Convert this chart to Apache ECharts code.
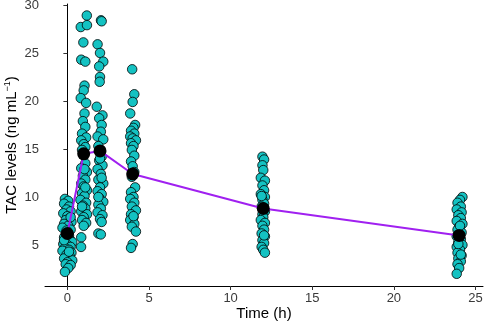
<!DOCTYPE html>
<html lang="en">

<head>
    <meta charset="UTF-8">
    <title>TAC levels over time</title>
    <style>
        * {
            margin: 0;
            padding: 0;
        }

        html,
        body {
            width: 100%;
            height: 100%;
            background: #fff;
        }
    </style>
    <script src="https://cdn.jsdelivr.net/npm/echarts@6/dist/echarts.min.js"></script>
</head>

<body>
    <div id="main" style="width:484px;height:321px;"></div>
</body>
<script>
    // individual observations [time (h), TAC (ng/mL)], jittered around each sampling time
    var obsT0 = [[-0.15, 9.8], [0.05, 9.6], [-0.2, 9.3], [0.1, 9.0], [-0.05, 8.7], [0.2, 8.5], [-0.25, 8.3], [0.0, 8.0],
        [0.15, 7.8], [-0.1, 7.6], [0.25, 7.4], [-0.2, 7.2], [0.05, 7.0], [-0.3, 6.8], [0.2, 6.6], [-0.05, 6.5],
        [0.1, 6.0], [-0.2, 5.8], [0.15, 5.6], [-0.1, 5.4], [0.3, 5.3], [-0.25, 5.1], [0.0, 5.0], [0.2, 4.8],
        [-0.15, 4.7], [0.1, 4.5], [-0.3, 4.4], [0.25, 4.2], [-0.05, 4.0], [0.15, 3.8], [-0.2, 3.6], [0.3, 3.4],
        [0.0, 3.2], [-0.1, 3.0], [0.2, 2.9], [0.05, 2.6], [-0.15, 2.2], [0.2, 7.9], [-0.1, 6.2], [0.1, 4.3], [-0.2, 5.5]];
    var obsT1 = [[1.19, 28.9], [0.82, 27.7], [1.2, 27.9], [0.98, 26.1], [0.85, 24.3], [1.1, 24.1], [1.05, 21.6], [1.0, 21.1],
        [0.82, 20.3], [1.15, 19.8], [1.05, 18.7], [0.95, 17.9], [1.1, 17.3], [0.9, 16.6], [1.15, 16.2], [0.85, 15.9],
        [1.0, 15.5], [1.1, 15.2], [0.9, 14.9], [1.1, 13.5], [0.85, 13.0], [1.2, 12.6], [0.95, 12.2], [1.1, 11.8],
        [0.85, 11.4], [1.0, 11.1], [1.2, 10.7], [0.9, 10.4], [1.05, 10.1], [0.8, 9.7], [1.15, 9.4], [0.95, 9.1],
        [1.1, 8.8], [0.85, 8.5], [1.2, 8.2], [1.0, 7.9], [0.9, 7.6], [1.15, 7.3], [1.0, 7.0], [0.85, 5.8],
        [0.84, 4.8], [1.05, 12.9], [0.9, 9.0], [1.1, 11.0]];
    var obsT2 = [[2.06, 28.4], [2.1, 28.3], [1.85, 25.9], [2.0, 25.0], [2.2, 24.1], [1.95, 23.6], [2.0, 22.5], [1.98, 22.0],
        [1.8, 19.4], [2.15, 18.5], [1.95, 18.2], [2.1, 17.5], [2.05, 16.8], [1.85, 16.3], [2.2, 16.0], [1.9, 15.3],
        [2.1, 14.2], [1.95, 13.8], [2.15, 13.3], [1.85, 12.9], [2.05, 12.4], [1.9, 11.8], [2.2, 11.4], [2.0, 11.0],
        [1.85, 10.6], [2.1, 10.3], [1.95, 9.9], [2.2, 9.5], [1.9, 9.2], [2.05, 8.8], [1.85, 8.4], [2.15, 8.1],
        [2.0, 7.7], [2.1, 7.4], [1.9, 6.2], [2.05, 6.1], [2.0, 14.0], [2.1, 12.0], [1.9, 10.0]];
    var obsT4 = [[3.97, 23.3], [4.1, 20.7], [4.0, 19.9], [3.85, 18.7], [4.15, 17.5], [4.05, 17.2], [3.9, 16.9], [4.1, 16.6],
        [3.85, 16.3], [4.0, 16.1], [4.2, 15.9], [3.9, 15.6], [4.05, 15.3], [3.95, 14.9], [4.1, 14.3], [3.9, 13.7],
        [4.0, 13.2], [4.1, 12.6], [3.95, 12.1], [4.15, 11.0], [3.9, 10.5], [4.05, 10.0], [3.85, 9.8], [4.1, 9.4],
        [3.95, 9.0], [4.2, 8.6], [3.9, 8.2], [4.05, 7.9], [3.85, 7.6], [4.1, 7.2], [3.95, 6.9], [4.2, 6.4],
        [4.0, 5.1], [3.9, 4.7], [4.05, 8.0]];
    var obsT12 = [[11.95, 14.2], [12.05, 13.9], [11.95, 13.3], [12.0, 12.8], [11.85, 12.0], [12.1, 11.7], [11.95, 11.2],
        [12.05, 10.7], [11.85, 10.3], [12.1, 10.0], [11.95, 9.7], [12.05, 9.3], [11.9, 9.0], [12.1, 8.5], [11.95, 8.2],
        [12.0, 7.9], [11.85, 7.6], [12.1, 7.3], [11.95, 7.0], [12.05, 6.6], [11.9, 6.2], [12.1, 5.9], [11.95, 5.5],
        [12.05, 5.2], [11.9, 4.8], [12.0, 4.5], [12.1, 4.2], [11.9, 10.1], [12.05, 6.0]];
    var obsT24 = [[24.2, 10.0], [24.05, 9.7], [23.9, 9.4], [24.1, 9.0], [23.85, 8.7], [24.15, 8.4], [23.95, 8.1],
        [24.1, 7.8], [23.85, 7.5], [24.2, 7.2], [24.0, 6.9], [23.9, 6.6], [24.15, 6.3], [23.85, 5.9], [24.1, 5.6],
        [23.95, 5.3], [24.2, 5.0], [23.85, 4.8], [24.05, 4.5], [23.9, 4.2], [24.15, 3.9], [23.95, 3.6], [24.1, 3.3],
        [23.9, 3.0], [24.0, 2.6], [23.85, 2.0], [24.05, 7.0], [23.95, 5.1], [24.1, 4.0]];

    // mean profile
    var meanTimes = [0, 1, 2, 4, 12, 24];
    var meanValues = [6.2, 14.5, 14.8, 12.4, 8.8, 6.0];

    var xTicks = [0, 5, 10, 15, 20, 25];
    var yTicks = [5, 10, 15, 20, 25, 30];

    function initEchart() {
        var observations = [].concat(obsT0, obsT1, obsT2, obsT4, obsT12, obsT24);
        var means = meanTimes.map(function (t, i) {
            return [t, meanValues[i]];
        });
        var axisLabelStyle = {
            color: '#3a3a3a',
            fontSize: 13,
            fontFamily: 'Liberation Sans'
        };
        var option = {
            animation: false,
            grid: {
                left: 45,
                right: 1,
                top: 4,
                bottom: 35,
                outerBoundsMode: 'none'
            },
            xAxis: {
                type: 'value',
                min: -1.37,
                max: 25.46,
                name: 'Time (h)',
                nameLocation: 'middle',
                nameGap: 20,
                nameMoveOverlap: false,
                nameTextStyle: {
                    color: '#000',
                    fontSize: 15,
                    fontFamily: 'Liberation Sans'
                },
                splitLine: { show: false },
                axisLine: { lineStyle: { color: '#000', width: 1 } },
                axisTick: { show: true, length: 4, customValues: xTicks, lineStyle: { color: '#333' } },
                axisLabel: Object.assign({ customValues: xTicks, margin: 6 }, axisLabelStyle)
            },
            yAxis: {
                type: 'value',
                min: 0.73,
                max: 30.1,
                name: '{n|TAC levels (ng mL}{s|\u22121}{n|)}',
                nameLocation: 'middle',
                nameGap: 26,
                nameRotate: 90,
                nameMoveOverlap: false,
                nameTextStyle: {
                    rich: {
                        n: { color: '#000', fontSize: 15, fontFamily: 'Liberation Sans', verticalAlign: 'bottom' },
                        s: { color: '#000', fontSize: 9, fontFamily: 'Liberation Sans', verticalAlign: 'bottom', padding: [0, 0, 7, 0] }
                    }
                },
                splitLine: { show: false },
                axisLine: { show: true, lineStyle: { color: '#000', width: 1 } },
                axisTick: { show: true, length: 4, customValues: yTicks, lineStyle: { color: '#333' } },
                axisLabel: Object.assign({ customValues: yTicks, margin: 6 }, axisLabelStyle)
            },
            series: [{
                    name: 'Observed',
                    type: 'scatter',
                    symbolSize: 9.5,
                    itemStyle: {
                        color: '#14C2C2',
                        borderColor: '#000',
                        borderWidth: 0.8,
                        opacity: 1
                    },
                    z: 2,
                    data: observations
                },
                {
                    name: 'Mean',
                    type: 'line',
                    symbol: 'circle',
                    symbolSize: 13,
                    showAllSymbol: true,
                    lineStyle: {
                        color: '#A020F0',
                        width: 2
                    },
                    itemStyle: {
                        color: '#000'
                    },
                    z: 3,
                    data: means
                }
            ]
        };
        var myChart = echarts.init(document.getElementById('main'));
        myChart.setOption(option);
    }
    initEchart();
</script>

</html>
